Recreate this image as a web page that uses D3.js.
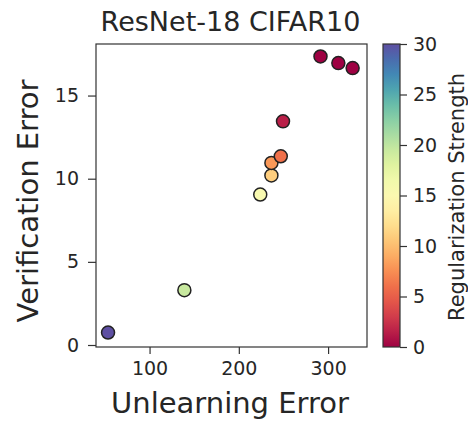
<!DOCTYPE html>
<html>
<head>
<meta charset="utf-8">
<script src="https://cdn.jsdelivr.net/npm/d3@7"></script>
<style>
  body { margin: 0; background: white; }
  text { font-family: "DejaVu Sans", sans-serif; fill: #262626; }
</style>
</head>
<body>
<script>
// values
const unlearnErr = [53.5, 139, 224, 236.5, 236.5, 247, 249.5, 291.5, 311.5, 327.5]
const verifErr = [0.75, 3.3, 9.05, 10.2, 10.95, 11.35, 13.45, 17.35, 16.95, 16.65]
const regStrength = [30, 19.5, 15.5, 11, 8, 6, 1.5, 0, 0, 0]
const xTicks = [100, 200, 300]
const yTicks = [0, 5, 10, 15]
const cTicks = [0, 5, 10, 15, 20, 25, 30]

const W = 468, H = 422
const plot = { left: 96, right: 367, top: 44, bottom: 347 }
const cbar = { left: 383, right: 400, top: 44, bottom: 347 }

const svg = d3.select("body").append("svg")
    .attr("width", W)
    .attr("height", H)

const xScale = d3.scaleLinear().domain([40, 343.6]).range([plot.left, plot.right])
const yScale = d3.scaleLinear().domain([-0.12, 18.1]).range([plot.bottom, plot.top])
const cScale = d3.scaleLinear().domain([0, 30]).range([cbar.bottom, cbar.top])
const color = v => d3.interpolateSpectral(v / 30)

const points = unlearnErr.map((x, i) => ({ x: x, y: verifErr[i], c: regStrength[i] }))

// points
svg.append("g").selectAll("circle")
    .data(points).enter()
    .append("circle")
    .attr("cx", d => xScale(d.x))
    .attr("cy", d => yScale(d.y))
    .attr("r", 6.5)
    .attr("fill", d => color(d.c))
    .attr("stroke", "#222")
    .attr("stroke-width", 1.5)

// frame
svg.append("rect")
    .attr("x", plot.left).attr("y", plot.top)
    .attr("width", plot.right - plot.left)
    .attr("height", plot.bottom - plot.top)
    .attr("fill", "none")
    .attr("stroke", "#333")
    .attr("stroke-width", 1.2)

const xAxis = svg.append("g")
    .attr("transform", `translate(0, ${plot.bottom})`)
    .call(d3.axisBottom(xScale).tickValues(xTicks).tickSize(7).tickPadding(8))
const yAxis = svg.append("g")
    .attr("transform", `translate(${plot.left}, 0)`)
    .call(d3.axisLeft(yScale).tickValues(yTicks).tickSize(8).tickPadding(9))

;[xAxis, yAxis].forEach(a => {
    a.select(".domain").remove()
    a.selectAll("line").attr("stroke", "#333").attr("stroke-width", 1.2)
    a.selectAll("text").style("font-family", "DejaVu Sans").style("font-size", "19px").attr("fill", "#262626")
})

// colorbar
const defs = svg.append("defs")
const grad = defs.append("linearGradient")
    .attr("id", "cgrad")
    .attr("x1", "0").attr("y1", "1").attr("x2", "0").attr("y2", "0")
d3.range(0, 1.0001, 0.05).forEach(t => {
    grad.append("stop").attr("offset", t).attr("stop-color", d3.interpolateSpectral(t))
})
svg.append("rect")
    .attr("x", cbar.left).attr("y", cbar.top)
    .attr("width", cbar.right - cbar.left)
    .attr("height", cbar.bottom - cbar.top)
    .attr("fill", "url(#cgrad)")
    .attr("stroke", "#333")
    .attr("stroke-width", 1.2)

const cAxis = svg.append("g")
    .attr("transform", `translate(${cbar.right}, 0)`)
    .call(d3.axisRight(cScale).tickValues(cTicks).tickSize(7).tickPadding(6))
cAxis.select(".domain").remove()
cAxis.selectAll("line").attr("stroke", "#333").attr("stroke-width", 1.2)
cAxis.selectAll("text").style("font-family", "DejaVu Sans").style("font-size", "19px").attr("fill", "#262626")

// labels
svg.append("text")
    .attr("x", 230.5)
    .attr("y", 31)
    .attr("text-anchor", "middle")
    .style("font-size", "27px")
    .text("ResNet-18 CIFAR10")

svg.append("text")
    .attr("x", 230)
    .attr("y", 413)
    .attr("text-anchor", "middle")
    .style("font-size", "29px")
    .text("Unlearning Error")

svg.append("text")
    .attr("transform", `translate(38, 201) rotate(-90)`)
    .attr("text-anchor", "middle")
    .style("font-size", "29px")
    .text("Verification Error")

svg.append("text")
    .attr("transform", `translate(464, 197) rotate(-90)`)
    .attr("text-anchor", "middle")
    .style("font-size", "21px")
    .text("Regularization Strength")
</script>
</body>
</html>
